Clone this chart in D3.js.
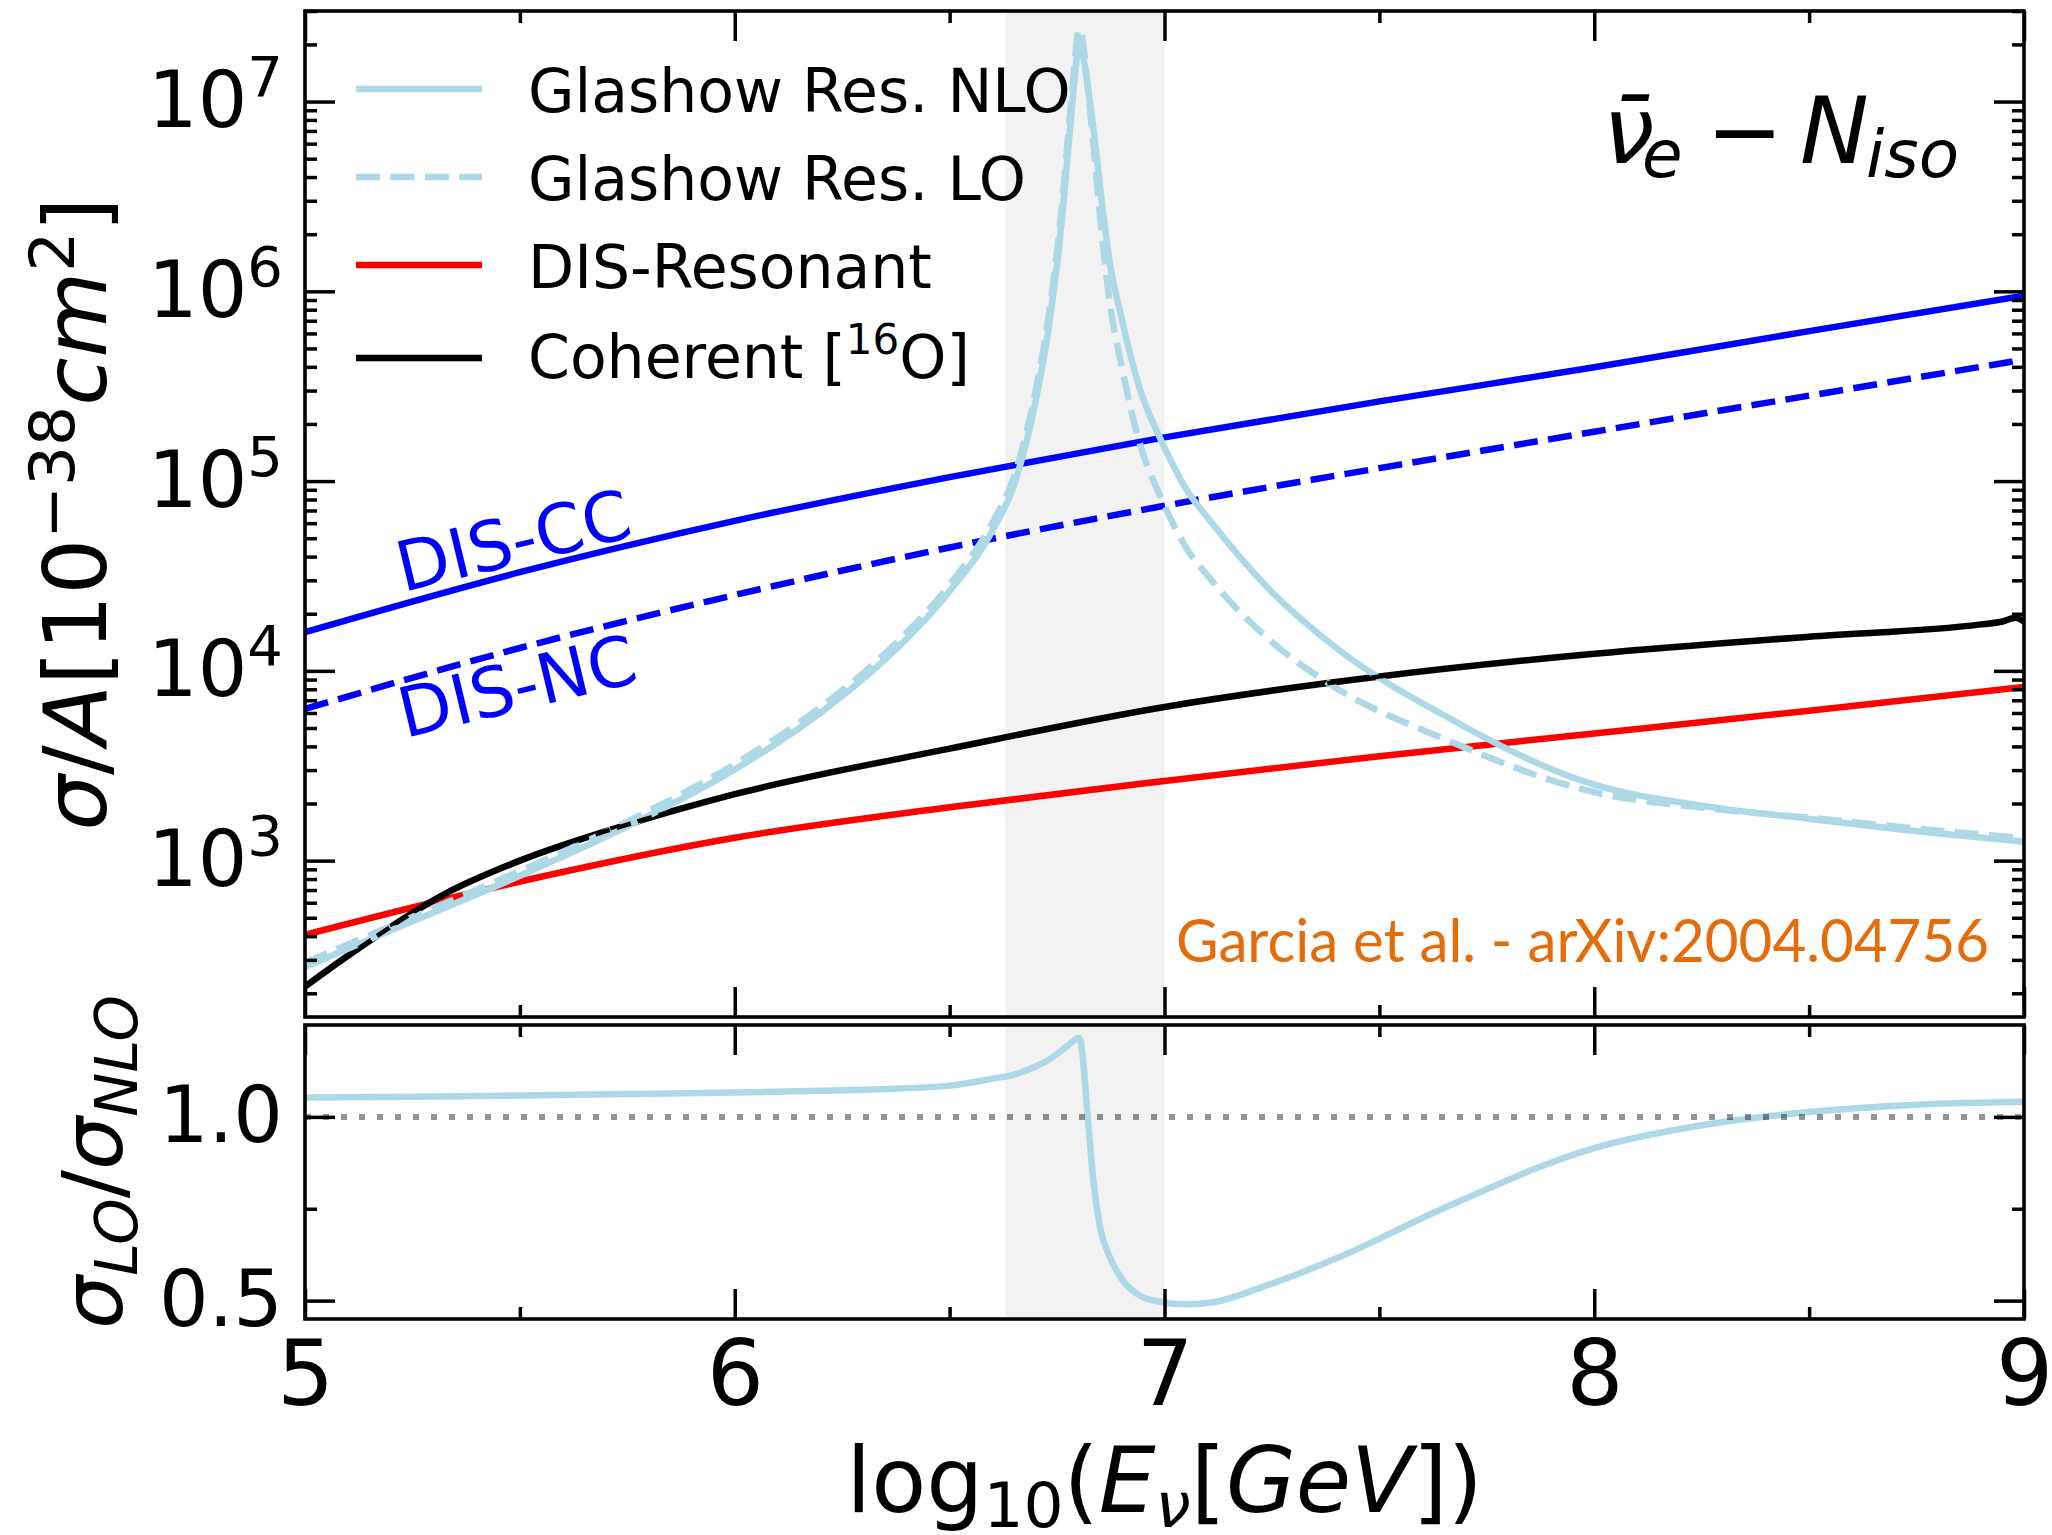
<!DOCTYPE html>
<html>
<head>
<meta charset="utf-8">
<script src="https://cdn.jsdelivr.net/npm/d3@7"></script>
<style>
  body { margin: 0; background: #fff; }
  svg { display: block; font-family: "DejaVu Sans", sans-serif; }
</style>
</head>
<body>
<svg id="chart" width="2052" height="1535"></svg>
<script>
// ---- data (x = log10(E_nu / GeV), cross sections in 1e-38 cm^2 per nucleon)
const disEnergy = [5, 5.5, 6, 6.5, 7, 7.5, 8, 8.5, 9];
const disCC = [1.6e4, 3.31e4, 6.17e4, 1.05e5, 1.70e5, 2.63e5, 3.98e5, 6.17e5, 9.48e5];
const disNC = [6.3e3, 1.32e4, 2.51e4, 4.47e4, 7.41e4, 1.17e5, 1.82e5, 2.82e5, 4.37e5];
const disResonant = [4.07e2, 7.76e2, 1.32e3, 1.91e3, 2.63e3, 3.55e3, 4.68e3, 6.17e3, 8.22e3];

const coherentEnergy = [5, 5.12, 5.33, 5.5, 5.75, 6, 6.5, 7, 7.5, 8, 8.5, 8.9, 8.95, 8.98, 9];
const coherent = [217, 339, 676, 1000, 1549, 2239, 3890, 6457, 9333, 12303, 15136, 17579, 18197, 19055, 18197];

const glashowEnergy = [5, 5.25, 5.5, 5.75, 6, 6.2, 6.35, 6.5, 6.6, 6.65, 6.7, 6.73, 6.76, 6.78, 6.79,
  6.8, 6.805, 6.81, 6.82, 6.835, 6.85, 6.872, 6.9, 6.945, 6.99, 7.05, 7.11, 7.235, 7.4, 7.647,
  8, 8.25, 8.5, 8.75, 9];
const glashowNLO = [275, 479, 832, 1514, 3020, 6026, 11482, 26303, 54954, 95499, 2.63e5, 6.31e5, 2.24e6, 7.08e6, 1.26e7,
  1.95e7, 2.0e7, 1.78e7, 1.26e7, 7.08e6, 3.55e6, 1.45e6, 7.24e5, 2.95e5, 1.68e5, 9.12e4, 6.03e4, 2.82e4, 1.32e4, 5888,
  2512, 1950, 1660, 1429, 1259];
const glashowLO = [290, 505, 881, 1607, 3221, 6457, 12359, 28510, 60674, 1.06e5, 2.99e5, 7.29e5, 2.64e6, 8.49e6, 1.52e7,
  2.37e7, 2.4e7, 2.07e7, 1.28e7, 5.81e6, 2.48e6, 8.95e5, 4.06e5, 1.51e5, 8.34e4, 4.47e4, 2.99e4, 1.52e4, 8110, 4416,
  2296, 1905, 1683, 1476, 1312];
const ratioLOtoNLO = [1.053, 1.055, 1.058, 1.062, 1.066, 1.071, 1.076, 1.085, 1.104, 1.115, 1.137, 1.155, 1.18, 1.199, 1.208,
  1.215, 1.205, 1.16, 1.02, 0.82, 0.70, 0.62, 0.56, 0.512, 0.497, 0.49, 0.495, 0.54, 0.615, 0.75,
  0.915, 0.977, 1.013, 1.033, 1.041];

const shadedBand = [6.63, 7.0];
const xTicks = [5, 6, 7, 8, 9];
const xMinorTicks = [5.5, 6.5, 7.5, 8.5];
const yTopTicks = [1e3, 1e4, 1e5, 1e6, 1e7];
const yBottomTicks = [0.5, 1.0];
const yBottomMinorTicks = [0.75];
const legendLabels = ['Glashow Res. NLO', 'Glashow Res. LO', 'DIS-Resonant', 'Coherent ['];

// ---- layout
const plotLeft = 305, plotRight = 2024;
const topPanel = {top: 11, bottom: 1017};
const bottomPanel = {top: 1025, bottom: 1319};
const lineWidth = 6.5;
const frameWidth = 3.6;

const svg = d3.select('#chart');

const x = d3.scaleLinear().domain([5, 9]).range([plotLeft, plotRight]);
const yTop = d3.scaleLog().domain([150, 3e7]).range([topPanel.bottom, topPanel.top]);
const yBot = d3.scaleLinear().domain([0.45, 1.25]).range([bottomPanel.bottom, bottomPanel.top]);

const defs = svg.append('defs');
[['clip-top', topPanel], ['clip-bottom', bottomPanel]].forEach(([id, p]) => {
  defs.append('clipPath').attr('id', id)
    .append('rect')
    .attr('x', plotLeft).attr('y', p.top)
    .attr('width', plotRight - plotLeft).attr('height', p.bottom - p.top);
});

// shaded energy window in both panels
[topPanel, bottomPanel].forEach(p => {
  svg.append('rect')
    .attr('x', x(shadedBand[0]))
    .attr('y', p.top)
    .attr('width', x(shadedBand[1]) - x(shadedBand[0]))
    .attr('height', p.bottom - p.top)
    .attr('fill', '#f2f2f2');
});

const makeLine = (xs, yScale) => d3.line()
  .x((d, i) => x(xs[i]))
  .y(d => yScale(d))
  .curve(d3.curveMonotoneX);

const topSeries = [
  {xs: disEnergy, ys: disCC, color: '#0000ff'},
  {xs: disEnergy, ys: disNC, color: '#0000ff', dash: '24,10.4'},
  {xs: disEnergy, ys: disResonant, color: '#ff0000'},
  {xs: coherentEnergy, ys: coherent, color: '#000000'},
  {xs: glashowEnergy, ys: glashowNLO, color: '#add8e6'},
  {xs: glashowEnergy, ys: glashowLO, color: '#add8e6', dash: '24,10.4'},
  {xs: coherentEnergy, ys: coherent, color: '#000000', dash: '15,7', width: 4.5},
];

const gTop = svg.append('g').attr('clip-path', 'url(#clip-top)');
topSeries.forEach(s => {
  gTop.append('path')
    .attr('d', makeLine(s.xs, yTop)(s.ys))
    .attr('fill', 'none')
    .attr('stroke', s.color)
    .attr('stroke-width', s.width || lineWidth)
    .attr('stroke-dasharray', s.dash || null)
    .attr('stroke-linejoin', 'round');
});

const gBot = svg.append('g').attr('clip-path', 'url(#clip-bottom)');
gBot.append('path')
  .attr('d', makeLine(glashowEnergy, yBot)(ratioLOtoNLO))
  .attr('fill', 'none')
  .attr('stroke', '#add8e6')
  .attr('stroke-width', lineWidth)
  .attr('stroke-linejoin', 'round');

gBot.append('line')
  .attr('x1', x(5)).attr('x2', x(9))
  .attr('y1', yBot(1)).attr('y2', yBot(1))
  .attr('stroke', '#000')
  .attr('stroke-opacity', 0.42)
  .attr('stroke-width', 6)
  .attr('stroke-dasharray', '6,12');

// ---- axes
function styleAxis(g, fontSize) {
  g.select('.domain').remove();
  g.selectAll('.tick line').attr('stroke', '#000').attr('stroke-width', 3.5);
  g.selectAll('.tick text').attr('fill', '#000')
    .attr('font-size', fontSize).attr('font-family', 'DejaVu Sans');
}

function addTicks(axis, translate, values, size, format, fontSize) {
  return svg.append('g')
    .attr('transform', translate)
    .call(axis.tickValues(values).tickSize(-size).tickPadding(22).tickFormat(format || ''))
    .call(g => styleAxis(g, fontSize || 10));
}

const yTopMinor = yTop.ticks().filter(v => Math.abs(Math.log10(v) - Math.round(Math.log10(v))) > 1e-6);

// top panel
const yTopAxis = addTicks(d3.axisLeft(yTop), `translate(${plotLeft},0)`, yTopTicks, 30, null, 78);
addTicks(d3.axisLeft(yTop), `translate(${plotLeft},0)`, yTopMinor, 12);
addTicks(d3.axisRight(yTop), `translate(${plotRight},0)`, yTopTicks, 30);
addTicks(d3.axisRight(yTop), `translate(${plotRight},0)`, yTopMinor, 12);
addTicks(d3.axisBottom(x), `translate(0,${topPanel.bottom})`, xTicks, 30);
addTicks(d3.axisBottom(x), `translate(0,${topPanel.bottom})`, xMinorTicks, 12);
addTicks(d3.axisTop(x), `translate(0,${topPanel.top})`, xTicks, 30);
addTicks(d3.axisTop(x), `translate(0,${topPanel.top})`, xMinorTicks, 12);

// power-of-ten labels on the log axis
yTopAxis.selectAll('.tick text').each(function(d) {
  const t = d3.select(this).text(null);
  t.append('tspan').text('10');
  t.append('tspan').attr('dy', -31).attr('font-size', 56).text(Math.round(Math.log10(d)));
});

// bottom panel
addTicks(d3.axisLeft(yBot), `translate(${plotLeft},0)`, yBottomTicks, 30, d3.format('.1f'), 78);
addTicks(d3.axisLeft(yBot), `translate(${plotLeft},0)`, yBottomMinorTicks, 12);
addTicks(d3.axisRight(yBot), `translate(${plotRight},0)`, yBottomTicks, 30);
addTicks(d3.axisRight(yBot), `translate(${plotRight},0)`, yBottomMinorTicks, 12);
addTicks(d3.axisBottom(x), `translate(0,${bottomPanel.bottom})`, xTicks, 30, d3.format('d'), 90);
addTicks(d3.axisBottom(x), `translate(0,${bottomPanel.bottom})`, xMinorTicks, 12);
addTicks(d3.axisTop(x), `translate(0,${bottomPanel.top})`, xTicks, 30);
addTicks(d3.axisTop(x), `translate(0,${bottomPanel.top})`, xMinorTicks, 12);

// frames
[topPanel, bottomPanel].forEach(p => {
  svg.append('rect')
    .attr('x', plotLeft).attr('y', p.top)
    .attr('width', plotRight - plotLeft).attr('height', p.bottom - p.top)
    .attr('fill', 'none').attr('stroke', '#000').attr('stroke-width', frameWidth);
});

// ---- axis titles
const xTitle = svg.append('text')
  .attr('x', (plotLeft + plotRight) / 2).attr('y', 1512)
  .attr('text-anchor', 'middle').attr('font-size', 90);
xTitle.append('tspan').text('log');
xTitle.append('tspan').attr('font-size', 63).attr('dy', 15).text('10');
xTitle.append('tspan').attr('dy', -15).text('(');
xTitle.append('tspan').attr('font-style', 'italic').text('E');
xTitle.append('tspan').attr('font-style', 'italic').attr('font-size', 63).attr('dy', 15).text('ν');
xTitle.append('tspan').attr('dy', -15).text('[');
xTitle.append('tspan').attr('font-style', 'italic').text('GeV');
xTitle.append('tspan').text('])');

const yTitle = svg.append('text')
  .attr('transform', `translate(106,${(topPanel.top + topPanel.bottom) / 2}) rotate(-90)`)
  .attr('text-anchor', 'middle').attr('font-size', 88);
yTitle.append('tspan').attr('font-style', 'italic').text('σ');
yTitle.append('tspan').text('/');
yTitle.append('tspan').attr('font-style', 'italic').text('A');
yTitle.append('tspan').text('[10');
yTitle.append('tspan').attr('font-size', 63).attr('dy', -32).text('−38');
yTitle.append('tspan').attr('font-style', 'italic').attr('dy', 32).text('cm');
yTitle.append('tspan').attr('font-size', 63).attr('dy', -32).text('2');
yTitle.append('tspan').attr('dy', 32).text(']');

const rTitle = svg.append('text')
  .attr('transform', `translate(122,${(bottomPanel.top + bottomPanel.bottom) / 2 - 10}) rotate(-90)`)
  .attr('text-anchor', 'middle').attr('font-size', 84).attr('font-style', 'italic');
rTitle.append('tspan').text('σ');
rTitle.append('tspan').attr('font-size', 59).attr('dy', 15).text('LO');
rTitle.append('tspan').attr('font-style', 'normal').attr('dy', -15).text('/');
rTitle.append('tspan').text('σ');
rTitle.append('tspan').attr('font-size', 59).attr('dy', 15).text('NLO');

// ---- legend
const legendStyles = [
  {color: '#add8e6'}, {color: '#add8e6', dash: '24,10.4'}, {color: '#ff0000'}, {color: '#000000'}
];
const legendRows = [89, 177, 265, 358];
legendLabels.forEach((label, i) => {
  svg.append('line')
    .attr('x1', 356).attr('x2', 482)
    .attr('y1', legendRows[i]).attr('y2', legendRows[i])
    .attr('stroke', legendStyles[i].color)
    .attr('stroke-width', lineWidth)
    .attr('stroke-dasharray', legendStyles[i].dash || null);
  const t = svg.append('text')
    .attr('x', 528).attr('y', legendRows[i] + (i === 3 ? 20 : 23))
    .attr('font-size', 60).text(label);
  if (i === 3) {
    t.append('tspan').attr('font-size', 42).attr('dy', -24).text('16');
    t.append('tspan').attr('dy', 24).text('O]');
  }
});

// ---- annotations
const title = svg.append('text').attr('y', 163).attr('font-size', 92);
title.append('tspan').attr('x', 1603).attr('font-style', 'italic').text('ν\u0304');
title.append('tspan').attr('x', 1642).attr('dy', 14).attr('font-size', 66).attr('font-style', 'italic').text('e');
title.append('tspan').attr('x', 1706).attr('dy', -14).text('−');
title.append('tspan').attr('x', 1800).attr('font-style', 'italic').text('N');
title.append('tspan').attr('x', 1866).attr('dy', 14).attr('font-size', 66).attr('font-style', 'italic').text('iso');

svg.append('text')
  .attr('transform', 'translate(403,592) rotate(-13.5)')
  .attr('font-size', 69).attr('fill', '#0000ff').text('DIS-CC');
svg.append('text')
  .attr('transform', 'translate(405,738) rotate(-13.5)')
  .attr('font-size', 69).attr('fill', '#0000ff').text('DIS-NC');

svg.append('text')
  .attr('x', 1176).attr('y', 962)
  .attr('font-family', 'Lato, "Open Sans", sans-serif')
  .attr('font-size', 60)
  .attr('fill', '#e46c0a')
  .attr('textLength', 813).attr('lengthAdjust', 'spacingAndGlyphs')
  .text('Garcia et al. - arXiv:2004.04756');
</script>
</body>
</html>
